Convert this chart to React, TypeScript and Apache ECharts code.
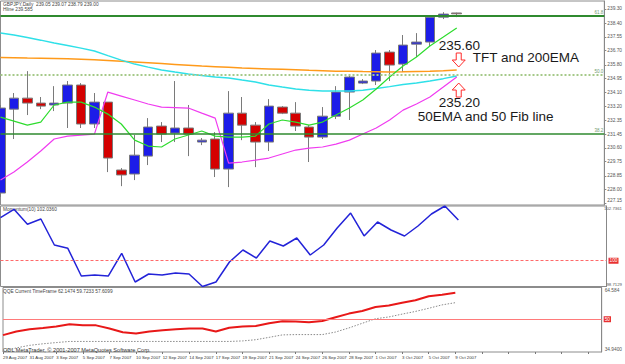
import React, { useEffect, useRef } from 'react';
import * as echarts from 'echarts';

const FONT = '"Liberation Sans", Arial, sans-serif';

// Bar dates (broker feed includes Sunday bars)
const dates = [
  '29 Aug 2007', '30 Aug 2007', '31 Aug 2007', '2 Sep 2007', '3 Sep 2007', '4 Sep 2007', '5 Sep 2007',
  '6 Sep 2007', '7 Sep 2007', '9 Sep 2007', '10 Sep 2007', '11 Sep 2007', '12 Sep 2007', '13 Sep 2007',
  '14 Sep 2007', '16 Sep 2007', '17 Sep 2007', '18 Sep 2007', '19 Sep 2007', '20 Sep 2007', '21 Sep 2007',
  '23 Sep 2007', '24 Sep 2007', '25 Sep 2007', '26 Sep 2007', '27 Sep 2007', '28 Sep 2007', '30 Sep 2007',
  '1 Oct 2007', '2 Oct 2007', '3 Oct 2007', '4 Oct 2007', '5 Oct 2007', '8 Oct 2007', '9 Oct 2007',
];
const emptySlots = 11; // blank space to the right of the last bar

// [open, close, low, high]
const candles = [
  [227.78, 233.10, 227.53, 233.29],
  [233.03, 233.72, 231.16, 234.04],
  [233.72, 233.41, 232.66, 235.41],
  [233.41, 233.22, 233.03, 233.79],
  [233.29, 233.41, 232.91, 234.47],
  [233.41, 234.54, 231.85, 234.79],
  [234.54, 232.10, 231.85, 234.66],
  [232.10, 233.47, 231.85, 234.04],
  [233.47, 229.97, 229.09, 233.47],
  [229.22, 228.91, 228.21, 229.34],
  [228.97, 230.15, 228.59, 231.41],
  [230.09, 231.91, 229.53, 232.47],
  [231.97, 231.47, 230.97, 232.22],
  [231.53, 231.85, 230.97, 234.79],
  [231.85, 231.47, 230.09, 233.29],
  [230.97, 231.09, 230.78, 231.22],
  [231.16, 229.28, 228.78, 231.59],
  [229.28, 232.78, 228.15, 234.16],
  [232.78, 232.03, 231.09, 233.79],
  [232.03, 230.97, 229.40, 232.22],
  [230.97, 233.22, 230.41, 233.66],
  [233.16, 232.78, 232.72, 233.22],
  [232.78, 231.97, 231.66, 233.47],
  [231.91, 231.28, 229.72, 232.03],
  [231.28, 232.59, 231.16, 233.16],
  [232.59, 234.10, 232.41, 234.47],
  [234.10, 235.04, 232.35, 235.16],
  [234.66, 234.79, 234.60, 234.91],
  [234.79, 236.54, 234.54, 236.73],
  [236.60, 235.79, 234.79, 236.73],
  [235.85, 237.04, 235.35, 237.67],
  [237.10, 237.23, 236.29, 237.79],
  [237.23, 238.79, 236.92, 238.92],
  [238.79, 238.98, 238.67, 239.10],
  [239.05, 239.00, 238.79, 239.07],
];

const fastMA = [
  232.53, 232.28, 232.03, 232.22, 233.29, 233.47, 233.47, 233.16, 232.72, 232.10, 231.09, 230.72,
  230.66, 231.16, 231.41, 231.66, 231.34, 231.28, 231.28, 231.34, 232.10, 232.35, 232.22, 232.03,
  232.22, 232.66, 233.10, 233.60, 234.29, 235.04, 235.73, 236.29, 236.98, 237.54, 238.11,
];
const cyanMA = [
  237.79, 237.67, 237.51, 237.35, 237.17, 237.01, 236.85, 236.67, 236.38, 236.10, 235.85, 235.66,
  235.48, 235.35, 235.23, 235.13, 235.04, 234.98, 234.85, 234.73, 234.54, 234.41, 234.29, 234.22,
  234.16, 234.16, 234.16, 234.22, 234.32, 234.44, 234.57, 234.66, 234.79, 234.94, 235.10,
];
const ema200 = [
  236.26, 236.25, 236.23, 236.22, 236.20, 236.18, 236.16, 236.13, 236.08, 236.03, 235.98, 235.93,
  235.88, 235.83, 235.78, 235.73, 235.69, 235.65, 235.61, 235.58, 235.55, 235.52, 235.49, 235.46,
  235.44, 235.41, 235.40, 235.38, 235.37, 235.36, 235.37, 235.39, 235.41, 235.44, 235.48,
];
const magentaMA = [
  228.59, 229.09, 229.72, 230.41, 231.16, 231.34, 231.41, 231.47, 234.10, 233.85, 233.60, 233.35,
  233.16, 233.13, 233.10, 232.78, 232.47, 229.65, 229.72, 229.84, 229.97, 230.22, 230.47, 230.59,
  230.66, 230.84, 231.09, 231.47, 231.85, 232.35, 232.97, 233.35, 233.79, 234.41, 235.04,
];

const fibLevels = [
  { ratio: '61.8', price: 238.86 },
  { ratio: '50.0', price: 235.165 },
  { ratio: '38.2', price: 231.47 },
];
const lastPrice = 239.0;
const priceTicks = [
  227.15, 228.0, 228.85, 229.75, 230.6, 231.45, 232.35, 233.2, 234.1, 234.95, 235.8, 236.7, 237.55,
  238.4, 239.3,
];

const momentum = [
  102.151, 102.571, 101.821, 102.086, 100.787, 100.622, 99.237, 99.287, 99.237, 100.372, 98.938,
  99.337, 99.287, 99.387, 99.337, 98.7129, 98.938, 99.937, 100.537, 100.137, 100.987, 100.737,
  101.137, 100.287, 100.787, 101.636, 102.386, 101.237, 101.936, 101.536, 101.237, 101.736, 102.336,
  102.7361, 102.036,
];
const momentumMin = 98.7129;
const momentumMax = 102.7361;
const momentumLevel = 100;

const qqeMain = [
  42.71, 44.35, 45.44, 46.0, 46.61, 47.65, 47.18, 47.18, 45.77, 43.98, 43.41, 44.35, 44.97, 45.39,
  45.77, 45.77, 44.35, 46.09, 46.71, 46.85, 48.12, 49.06, 48.96, 48.59, 49.15, 50.94, 52.59, 53.76,
  55.65, 56.35, 57.53, 58.7, 60.59, 61.3, 62.1474,
];
const qqeSlow = [
  35.18, 36.83, 38.0, 38.71, 39.27, 39.79, 39.79, 39.79, 39.79, 39.79, 39.79, 39.79, 39.79, 39.79,
  39.79, 39.79, 39.79, 39.79, 40.03, 40.59, 41.67, 42.8, 42.94, 42.94, 42.94, 44.12, 46.0, 48.12,
  50.24, 51.04, 52.35, 53.58, 55.03, 56.59, 57.6099,
];
const qqeMin = 34.94;
const qqeMax = 64.584;
const qqeLevel = 50;

export default function App() {
  const ref = useRef<HTMLDivElement>(null);

  useEffect(() => {
    const el = ref.current!;
    const chart = echarts.init(el, null, { renderer: 'svg' });
    const cats = [...dates, ...Array(emptySlots).fill('')];
    const last = dates.length - 1;
    const frame = { show: true, borderColor: '#8c8c8c', borderWidth: 1, backgroundColor: '#fff' };
    const small = { fontSize: 4.8, color: '#555', fontFamily: FONT };

    const xAxes = [0, 1, 2].map((i) => ({
      type: 'category',
      gridIndex: i,
      data: cats,
      boundaryGap: false,
      axisLine: { show: false },
      axisTick: { show: i === 2, interval: 1, length: 2, lineStyle: { color: '#777' } },
      axisLabel: {
        show: i === 2,
        interval: 1,
        showMinLabel: true,
        align: 'left',
        margin: 3,
        fontSize: 4.3,
        color: '#333',
        fontFamily: FONT,
      },
      splitLine: { show: false },
    }));

    const option: any = {
      animation: false,
      backgroundColor: '#fff',
      textStyle: { fontFamily: FONT },
      grid: [
        { left: 0.5, right: 16, top: 1, height: 204, ...frame },
        { left: 0.5, right: 16, top: 206, height: 80.5, ...frame },
        { left: 0.5, right: 16, top: 287.5, height: 64.5, ...frame },
      ],
      xAxis: xAxes,
      yAxis: [
        {
          type: 'value',
          gridIndex: 0,
          position: 'right',
          min: 227.03,
          max: 239.8,
          axisLine: { show: true, lineStyle: { color: '#888' } },
          axisTick: { show: true, length: 2, customValues: priceTicks, lineStyle: { color: '#888' } },
          axisLabel: {
            ...small,
            margin: 3,
            customValues: priceTicks,
            verticalAlignMinLabel: 'bottom',
            formatter: (v: number) => v.toFixed(2),
          },
          splitLine: { show: false },
        },
        {
          type: 'value',
          gridIndex: 1,
          position: 'right',
          min: momentumMin,
          max: momentumMax,
          axisLine: { show: true, lineStyle: { color: '#888' } },
          axisTick: { show: false },
          axisLabel: {
            ...small,
            fontSize: 4.3,
            align: 'right',
            margin: 15.5,
            customValues: [momentumMin, momentumMax],
            verticalAlignMinLabel: 'bottom',
            verticalAlignMaxLabel: 'top',
            formatter: (v: number) => v.toFixed(4),
          },
          splitLine: { show: false },
        },
        {
          type: 'value',
          gridIndex: 2,
          position: 'right',
          min: qqeMin,
          max: qqeMax,
          axisLine: { show: true, lineStyle: { color: '#888' } },
          axisTick: { show: false },
          axisLabel: {
            ...small,
            margin: 3,
            customValues: [qqeMin, qqeMax],
            verticalAlignMinLabel: 'bottom',
            verticalAlignMaxLabel: 'top',
            formatter: (v: number) => (v === qqeMax ? v.toFixed(3) : v.toFixed(4)),
          },
          splitLine: { show: false },
        },
      ],
      series: [
        {
          type: 'candlestick',
          xAxisIndex: 0,
          yAxisIndex: 0,
          data: candles,
          barWidth: 10,
          itemStyle: {
            color: '#1c1ce8',
            color0: '#d40000',
            borderColor: '#7a7a7a',
            borderColor0: '#7a7a7a',
            borderWidth: 1,
          },
          markLine: {
            silent: true,
            symbol: ['none', 'none'],
            data: [
              ...fibLevels.map((f, k) => ({
                yAxis: f.price,
                lineStyle:
                  k === 1
                    ? { color: '#a6c98a', width: 2, type: 'dotted' }
                    : { color: '#2f8a2f', width: k === 0 ? 2 : 1.5, type: 'solid' },
                label: {
                  show: true,
                  position: 'insideEndTop',
                  formatter: f.ratio,
                  fontSize: 4.5,
                  color: '#6f9a6f',
                  distance: 1,
                },
              })),
              {
                yAxis: lastPrice,
                lineStyle: { opacity: 0 },
                label: {
                  show: true,
                  position: 'end',
                  formatter: lastPrice.toFixed(2),
                  backgroundColor: '#000',
                  color: '#fff',
                  fontSize: 4.8,
                  padding: [1, 1, 0, 1],
                  distance: 2,
                },
              },
            ],
          },
        },
        { type: 'line', xAxisIndex: 0, yAxisIndex: 0, data: ema200, symbol: 'none', z: 3, lineStyle: { color: '#ff9a1a', width: 1.5 } },
        { type: 'line', xAxisIndex: 0, yAxisIndex: 0, data: cyanMA, symbol: 'none', z: 3, lineStyle: { color: '#2fe0e8', width: 1.5 } },
        { type: 'line', xAxisIndex: 0, yAxisIndex: 0, data: magentaMA, symbol: 'none', z: 3, lineStyle: { color: '#f03cf0', width: 1.2 } },
        { type: 'line', xAxisIndex: 0, yAxisIndex: 0, data: fastMA, symbol: 'none', z: 3, lineStyle: { color: '#2edc2e', width: 1.2 } },
        {
          type: 'line',
          xAxisIndex: 1,
          yAxisIndex: 1,
          data: momentum,
          symbol: 'none',
          lineStyle: { color: '#2323d8', width: 1.5 },
          markLine: {
            silent: true,
            symbol: ['none', 'none'],
            data: [
              {
                yAxis: momentumLevel,
                lineStyle: { color: '#ff6a6a', width: 1, type: [3, 2] },
                label: {
                  show: true,
                  position: 'end',
                  formatter: String(momentumLevel),
                  backgroundColor: '#e83030',
                  color: '#fff',
                  fontSize: 4.8,
                  padding: [1, 1, 0, 1],
                  distance: 2,
                },
              },
            ],
          },
        },
        {
          type: 'line',
          xAxisIndex: 2,
          yAxisIndex: 2,
          data: qqeMain,
          symbol: 'none',
          z: 3,
          lineStyle: { color: '#e81818', width: 2 },
          markLine: {
            silent: true,
            symbol: ['none', 'none'],
            data: [
              {
                yAxis: qqeLevel,
                lineStyle: { color: '#ff7a7a', width: 1, type: 'solid' },
                label: {
                  show: true,
                  position: 'end',
                  formatter: String(qqeLevel),
                  backgroundColor: '#e83030',
                  color: '#fff',
                  fontSize: 4.8,
                  padding: [1, 1, 0, 1],
                  distance: 2,
                },
              },
            ],
          },
        },
        {
          type: 'line',
          xAxisIndex: 2,
          yAxisIndex: 2,
          data: qqeSlow,
          symbol: 'none',
          lineStyle: { color: '#8a8a8a', width: 1, type: [1.5, 1.5] },
        },
      ],
    };
    chart.setOption(option);

    // annotations anchored on the last bar
    const [ax, ayT] = chart.convertToPixel({ gridIndex: 0 } as any, [last, ema200[last]]) as number[];
    const [, ayF] = chart.convertToPixel({ gridIndex: 0 } as any, [last, fibLevels[1].price]) as number[];
    const arrowX = ax + 2;
    const downTip = ayT - 3;
    const upTip = ayF + 8;
    const big = (text: string, x: number, y: number) => ({
      type: 'text',
      x,
      y,
      silent: true,
      style: { text, fontSize: 13.5, fontFamily: FONT, fill: '#1a1a1a', textVerticalAlign: 'middle', verticalAlign: 'middle' },
    });
    const tiny = (text: string, x: number, y: number) => ({
      type: 'text',
      x,
      y,
      silent: true,
      style: { text, fontSize: 4.8, fontFamily: FONT, fill: '#444', textVerticalAlign: 'middle', verticalAlign: 'middle' },
    });
    const down = [[-2.5, -14], [2.5, -14], [2.5, -7], [6.5, -7], [0, 0], [-6.5, -7], [-2.5, -7]];
    const up = down.map(([a, b]) => [a, -b]);
    chart.setOption({
      graphic: [
        tiny('GBPJPY,Daily  239.05 239.07 238.79 239.00', 3, 4.5),
        tiny('Hline 239.585', 3, 9),
        tiny('Momentum(10) ' + momentum[last].toFixed(4), 3, 209.5),
        tiny('QQE Current TimeFrame 62.1474 59.7233 57.6099', 3, 291.5),
        {
          type: 'text',
          x: 3,
          y: 350,
          silent: true,
          style: { text: 'ODL MetaTrader, © 2001-2007 MetaQuotes Software Corp.', fontSize: 5.6, fontFamily: FONT, fill: '#333', textVerticalAlign: 'middle', verticalAlign: 'middle' },
        },
        big('235.60', ax - 18, ayT - 25),
        big('TFT and 200EMA', ax + 16, ayT - 12.5),
        big('235.20', ax - 18, ayF + 27),
        big('50EMA and 50 Fib line', ax - 39, ayF + 41),
        {
          type: 'polygon',
          silent: true,
          shape: { points: down.map(([a, b]) => [arrowX + a, downTip + b]) },
          style: { fill: '#fff', stroke: '#ff2a2a', lineWidth: 1 },
        },
        {
          type: 'polygon',
          silent: true,
          shape: { points: up.map(([a, b]) => [arrowX + a, upTip + b]) },
          style: { fill: '#fff', stroke: '#ff2a2a', lineWidth: 1 },
        },
      ],
    });

    return () => chart.dispose();
  }, []);

  return (
    <div
      ref={ref}
      style={{ position: 'fixed', left: 0, top: 0, width: 625, height: 364, background: '#fff' }}
    />
  );
}
